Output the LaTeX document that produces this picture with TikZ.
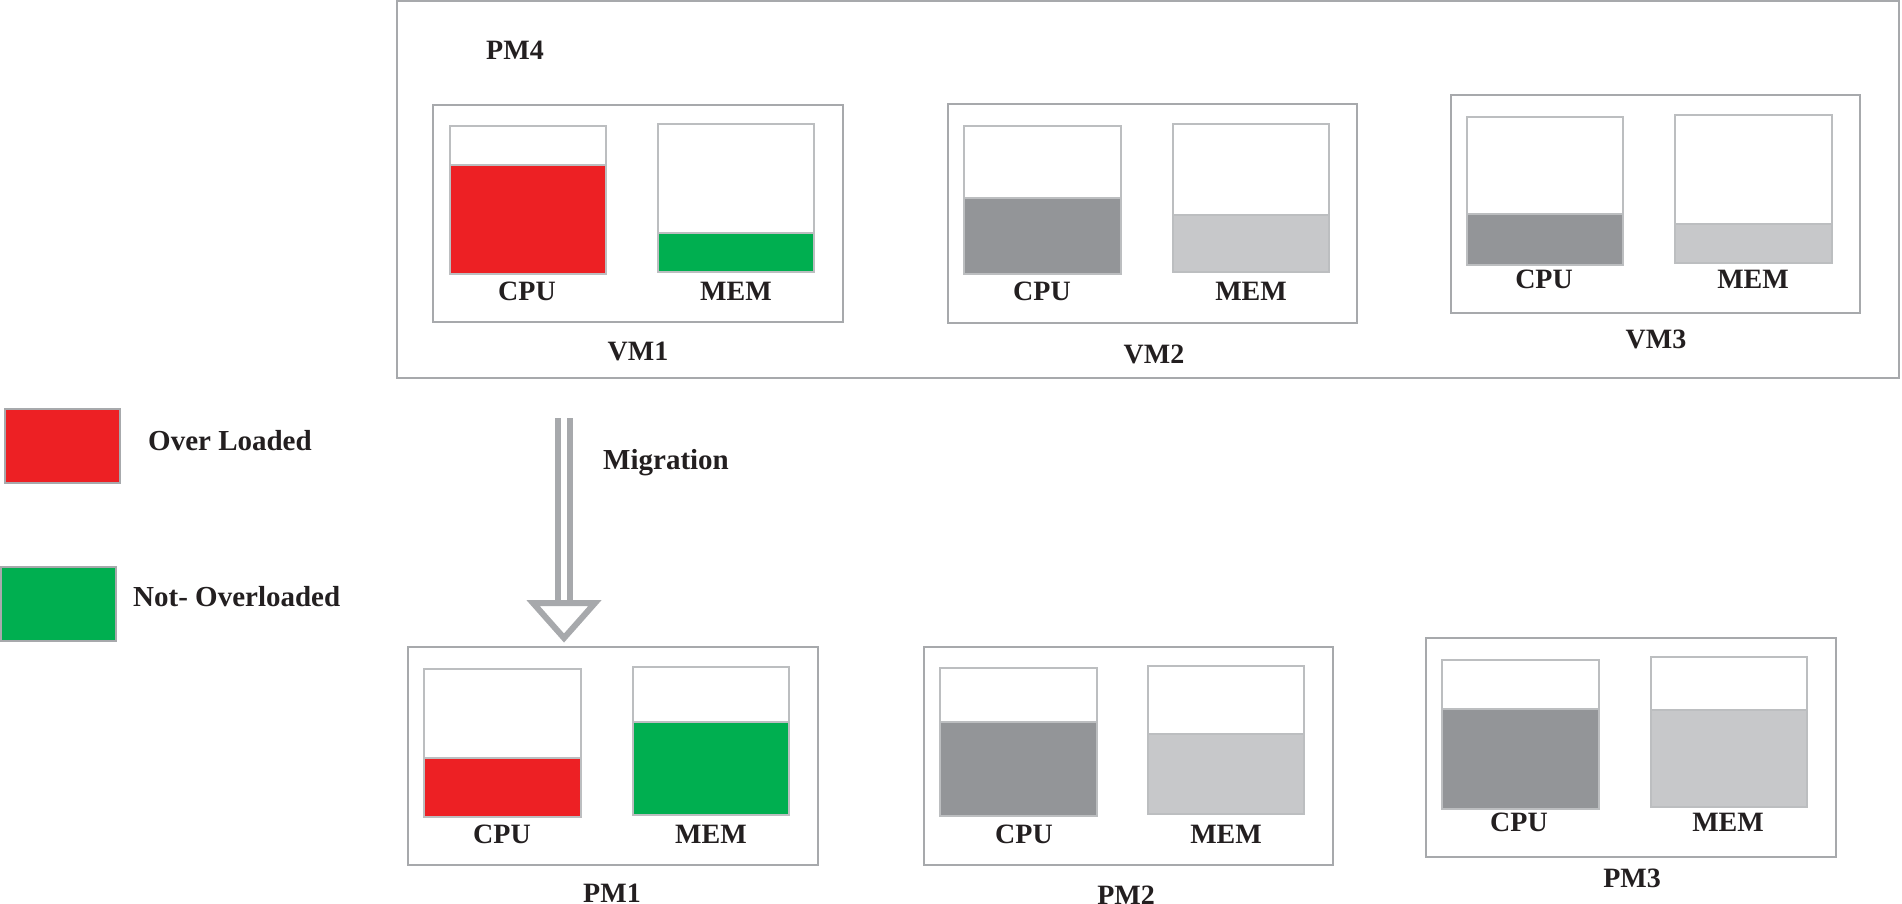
\documentclass[tikz,border=0pt]{standalone}
\usepackage{fontspec}
\setmainfont{Liberation Serif}
\usetikzlibrary{fit}
\definecolor{ovred}{HTML}{ED2024}
\definecolor{okgreen}{HTML}{00AF50}
\definecolor{dgray}{HTML}{939598}
\definecolor{lgray}{HTML}{C7C8CA}
\definecolor{boxline}{HTML}{A7A9AC}
\definecolor{barline}{HTML}{BCBEC0}
\definecolor{txt}{HTML}{231F20}
\tikzset{
  outerbox/.style={draw=boxline, line width=2.5pt, inner sep=0pt, fill=none},
  vmbox/.style={draw=boxline, line width=2.5pt, inner sep=0pt},
  barbox/.style={draw=barline, line width=1.5pt, inner sep=0pt, fill=white},
  barfill/.style={draw=barline, line width=1.5pt, inner sep=0pt, fill=#1},
  lbl/.style={text=txt, font=\fontsize{28}{32}\selectfont\bfseries, inner sep=0pt},
  biglbl/.style={text=txt, font=\fontsize{29}{33}\selectfont\bfseries, inner sep=0pt},
  arrowline/.style={draw=boxline, line width=6pt},
}
% #1 name, #2 left, #3 top, #4 right, #5 bottom, #6 fill top, #7 colour
\newcommand\loadbar[7]{%
  \node[barbox, fit={(#2,#3) (#4,#5)}] (#1) {};
  \node[barfill=#7, fit={(#2,#6) (#4,#5)}] (#1f) {};
}
\begin{document}
\begin{tikzpicture}[x=1pt, y=-1pt]
\useasboundingbox (0,0) rectangle (1902,904);

% PM4 outer box
\node[outerbox, fit={(397,1) (1899,378)}] (pm4) {};
\node[lbl, anchor=center] (pm4l) at (515,50) {PM4};

% VM1
\node[vmbox, fit={(433,105) (843,322)}] (vm1) {};
\loadbar{vm1cpu}{450}{126}{606}{274}{165}{ovred}
\loadbar{vm1mem}{658}{124}{814}{272}{233}{okgreen}
\node[lbl] (vm1c) at (527,291) {CPU};
\node[lbl] (vm1m) at (736,291) {MEM};
\node[lbl] (vm1l) at (638,351) {VM1};

% VM2
\node[vmbox, fit={(948,104) (1357,323)}] (vm2) {};
\loadbar{vm2cpu}{964}{126}{1121}{274}{198}{dgray}
\loadbar{vm2mem}{1173}{124}{1329}{272}{215}{lgray}
\node[lbl] (vm2c) at (1042,291) {CPU};
\node[lbl] (vm2m) at (1251,291) {MEM};
\node[lbl] (vm2l) at (1154,354) {VM2};

% VM3
\node[vmbox, fit={(1451,95) (1860,313)}] (vm3) {};
\loadbar{vm3cpu}{1467}{117}{1623}{265}{214}{dgray}
\loadbar{vm3mem}{1675}{115}{1832}{263}{224}{lgray}
\node[lbl] (vm3c) at (1544,279) {CPU};
\node[lbl] (vm3m) at (1753,279) {MEM};
\node[lbl] (vm3l) at (1656,339) {VM3};

% Legend
\node[barfill=ovred, draw=boxline, fit={(5,409) (120,483)}] (legred) {};
\node[biglbl, anchor=west] (legredl) at (148,441) {Over Loaded};
\node[barfill=okgreen, draw=boxline, fit={(1,567) (116,641)}] (leggreen) {};
\node[biglbl, anchor=west] (leggreenl) at (133,597) {Not- Overloaded};

% Migration arrow
\coordinate (mstart) at (564,418);
\coordinate (mend) at (564,638);
\draw[arrowline] ([xshift=-6pt]mstart) -- ([xshift=-6pt,yshift=-185pt]mstart);
\draw[arrowline] ([xshift=6pt]mstart) -- ([xshift=6pt,yshift=-185pt]mstart);
\draw[arrowline, fill=white, line join=miter]
  ([xshift=-31pt,yshift=35pt]mend) -- ([xshift=31pt,yshift=35pt]mend) -- (mend) -- cycle;
\node[biglbl, anchor=west] (migl) at (603,463) {Migration};

% PM1
\node[vmbox, fit={(408,647) (818,865)}] (pm1) {};
\loadbar{pm1cpu}{424}{669}{581}{817}{758}{ovred}
\loadbar{pm1mem}{633}{667}{789}{815}{722}{okgreen}
\node[lbl] (pm1c) at (502,834) {CPU};
\node[lbl] (pm1m) at (711,834) {MEM};
\node[lbl] (pm1l) at (612,893) {PM1};

% PM2
\node[vmbox, fit={(924,647) (1333,865)}] (pm2) {};
\loadbar{pm2cpu}{940}{668}{1097}{816}{722}{dgray}
\loadbar{pm2mem}{1148}{666}{1304}{814}{734}{lgray}
\node[lbl] (pm2c) at (1024,834) {CPU};
\node[lbl] (pm2m) at (1226,834) {MEM};
\node[lbl] (pm2l) at (1126,895) {PM2};

% PM3
\node[vmbox, fit={(1426,638) (1836,857)}] (pm3) {};
\loadbar{pm3cpu}{1442}{660}{1599}{809}{709}{dgray}
\loadbar{pm3mem}{1651}{657}{1807}{807}{710}{lgray}
\node[lbl] (pm3c) at (1519,822) {CPU};
\node[lbl] (pm3m) at (1728,822) {MEM};
\node[lbl] (pm3l) at (1632,878) {PM3};
\end{tikzpicture}
\end{document}
